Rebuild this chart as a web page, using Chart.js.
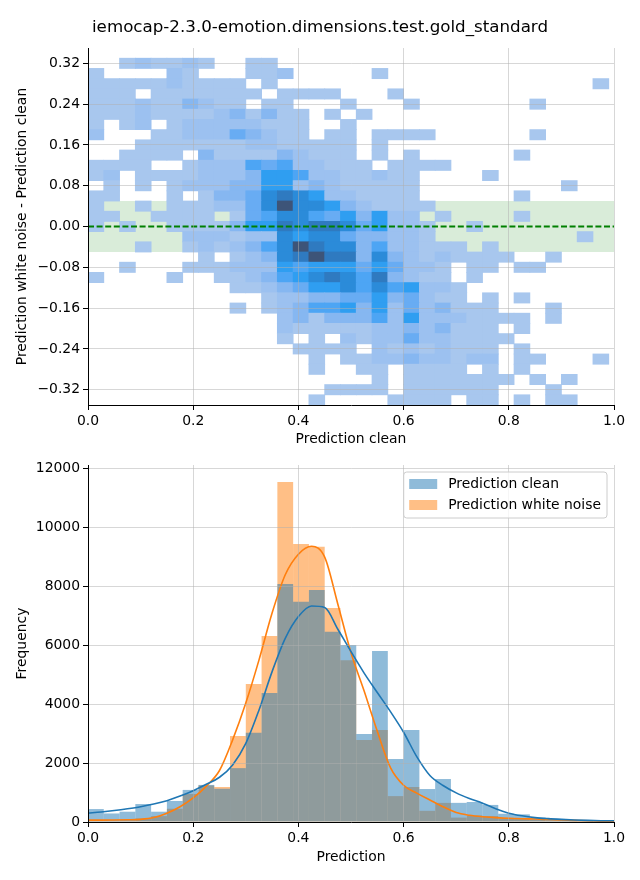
<!DOCTYPE html>
<html>
<head>
<meta charset="utf-8">
<script src="https://cdn.jsdelivr.net/npm/chart.js"></script>
<style>
  body { margin: 0; background: #fff; }
  canvas { display: block; }
</style>
</head>
<body>
<canvas id="heat" width="640" height="450"></canvas>
<canvas id="hist" width="640" height="430"></canvas>
<script>
const chartTitle = 'iemocap-2.3.0-emotion.dimensions.test.gold_standard';

// shared bins on "Prediction clean" / "Prediction" (width 0.03)
const binCenters = [0.015, 0.045, 0.075, 0.105, 0.135, 0.165, 0.195, 0.225, 0.255, 0.285, 0.315,
  0.345, 0.375, 0.405, 0.435, 0.465, 0.495, 0.525, 0.555, 0.585, 0.615, 0.645, 0.675, 0.705,
  0.735, 0.765, 0.795, 0.825, 0.855, 0.885, 0.915, 0.945, 0.975];

// rows of the 2d histogram (difference), top to bottom, height 0.02
const rowCenters = [0.32, 0.30, 0.28, 0.26, 0.24, 0.22, 0.20, 0.18, 0.16, 0.14, 0.12, 0.10, 0.08,
  0.06, 0.04, 0.02, 0.00, -0.02, -0.04, -0.06, -0.08, -0.10, -0.12, -0.14, -0.16, -0.18, -0.20,
  -0.22, -0.24, -0.26, -0.28, -0.30, -0.32, -0.34];
const rowHalf = 0.01;

// density level per cell (0 = empty, 9 = densest), one string per row
const heatRows = [
  '001211210011000000000000000000000',
  '100002100011200000100000000000000',
  '111112111101000000000000000000001',
  '111011111110111100010000000000000',
  '111211321101100010001000000010000',
  '111211112313110101000000000000000',
  '101201222221110010000000000000000',
  '200011222432110110111100000010000',
  '000111111122111110100000000000000',
  '001111031111321110101000000100000',
  '111100122254522111011110000000000',
  '120111122236652211211000010000000',
  '010101222336623211111000000000100',
  '110001013347876221111000000100000',
  '100101112247977632111100000000000',
  '110011110145775463622010000100000',
  '101001111366878874622100100000000',
  '000000222122767743322100000000010',
  '000100121235798773522111010000000',
  '000000010123789883732121111001000',
  '001000111222656664642210110110000',
  '100001001123567875832110100000000',
  '000000000112346675756221000000000',
  '000000000001223344634211010100000',
  '000000000101235563624231110001000',
  '000000000000231333526222111101000',
  '000000000000211111223231110100000',
  '000000000000101021224221111000000',
  '000000000000011110212121110100000',
  '000000000000001011223221220110001',
  '000000000000001001101111010100000',
  '000000000000000000101111111010100',
  '000000000000000111101111110001000',
  '000000000000001000011110110101100'
];
const heatPalette = [null, '#a8c7ee', '#9cc1f0', '#86b7f1', '#68acf3', '#4da5f4',
  '#2f9ef1', '#2b8bd9', '#2f7ac0', '#3d5478'];

const bandHalf = 0.05;
const heatXTicks = [0, 0.2, 0.4, 0.6, 0.8, 1.0];
const heatYTicks = [-0.32, -0.24, -0.16, -0.08, 0, 0.08, 0.16, 0.24, 0.32];

// histogram counts per bin
const cleanCounts = [440, 290, 350, 610, 350, 715, 1090, 1260, 1130, 1830, 3030, 4380, 8090, 7480,
  7880, 6460, 6015, 2990, 5810, 2140, 3130, 1120, 1460, 650, 680, 580, 280, 260, 150, 100, 70, 40, 20];
const noiseCounts = [60, 50, 60, 120, 200, 450, 950, 1240, 1190, 2920, 4690, 6320, 11550, 9450,
  9350, 7270, 5500, 2790, 3130, 880, 1190, 380, 650, 150, 220, 200, 120, 100, 80, 60, 40, 30, 20];

// kde curves (in counts)
const kdeX = [0, 0.025, 0.05, 0.075, 0.1, 0.125, 0.15, 0.175, 0.2, 0.225, 0.25, 0.275, 0.3, 0.325,
  0.35, 0.375, 0.4, 0.425, 0.45, 0.475, 0.5, 0.525, 0.55, 0.575, 0.6, 0.625, 0.65, 0.675, 0.7,
  0.725, 0.75, 0.775, 0.8, 0.825, 0.85, 0.875, 0.9, 0.925, 0.95, 0.975, 1.0];
const kdeClean = [300, 340, 390, 450, 520, 610, 725, 880, 1065, 1280, 1520, 1940, 2670, 3800, 5110,
  6240, 6980, 7340, 7290, 6550, 5790, 5060, 4400, 3750, 3050, 2220, 1580, 1240, 990, 800, 640, 450,
  300, 210, 150, 115, 90, 70, 55, 45, 40];
const kdeNoise = [65, 65, 68, 75, 90, 150, 300, 520, 820, 1220, 1750, 2790, 4040, 5500, 7100, 8400,
  9100, 9370, 9000, 7400, 5750, 4450, 3080, 1850, 1250, 980, 750, 520, 320, 230, 180, 150, 125, 110,
  100, 85, 70, 55, 40, 30, 25];
const histXTicks = [0, 0.2, 0.4, 0.6, 0.8, 1.0];
const histYTicks = [0, 2000, 4000, 6000, 8000, 10000, 12000];
const histYMax = 12130;

Chart.defaults.font.family = '"DejaVu Sans", sans-serif';
Chart.defaults.color = '#000';

const font = { size: 13.9 };
const gridColor = 'rgba(176,176,176,0.5)';
const fmt = (v, d) => (Math.abs(v) < 1e-9 ? 0 : v).toFixed(d).replace('-', '\u2212');
const grid = { color: gridColor, z: 1, tickColor: '#000', tickLength: 5, tickWidth: 1, offset: false };
const border = { color: '#000', width: 1, z: 2 };
const setTicks = arr => s => { s.ticks = arr.map(v => ({ value: v })); };

// heat cells as floating bars
const heatData = [];
heatRows.forEach((row, r) => {
  [...row].forEach((ch, c) => {
    const v = +ch;
    if (v) heatData.push({ x: binCenters[c], y: [rowCenters[r] - rowHalf, rowCenters[r] + rowHalf], v });
  });
});

new Chart(document.getElementById('heat'), {
  type: 'bar',
  data: {
    datasets: [
      { type: 'line', data: [{ x: 0, y: 0 }, { x: 1, y: 0 }], borderColor: '#008000', borderWidth: 2,
        borderDash: [6, 2.6], pointRadius: 0, order: 0 },
      { data: heatData, backgroundColor: ctx => ctx.raw ? heatPalette[ctx.raw.v] : heatPalette[1],
        borderWidth: 0, barPercentage: 1, categoryPercentage: 1, inflateAmount: 0.4, order: 1 },
      { type: 'line', data: [{ x: 0, y: bandHalf }, { x: 1, y: bandHalf }], fill: '+1',
        backgroundColor: 'rgba(0,128,0,0.15)', borderColor: 'rgba(0,0,0,0)', pointRadius: 0, order: 2 },
      { type: 'line', data: [{ x: 0, y: -bandHalf }, { x: 1, y: -bandHalf }],
        borderColor: 'rgba(0,0,0,0)', pointRadius: 0, order: 2 }
    ]
  },
  options: {
    responsive: false, animation: false, events: [],
    layout: { padding: 0 },
    plugins: {
      legend: { display: false }, tooltip: { enabled: false },
      title: { display: true, text: chartTitle, font: { size: 16.7, weight: 'normal' },
        padding: { top: 18, bottom: 10 }, color: '#000' }
    },
    scales: {
      x: {
        type: 'linear', min: 0, max: 1, offset: false, grid, border,
        afterBuildTicks: setTicks(heatXTicks), afterFit: s => { s.height = 45; },
        ticks: { font, padding: 3, maxRotation: 0, callback: v => fmt(v, 1) },
        title: { display: true, text: 'Prediction clean', font, padding: { top: 0, bottom: 2 } }
      },
      y: {
        type: 'linear', min: -0.35, max: 0.35, border,
        grid: { ...grid, color: ctx => ctx.tick && Math.abs(ctx.tick.value) < 1e-9 ? 'rgba(0,0,0,0)' : gridColor },
        afterBuildTicks: setTicks(heatYTicks), afterFit: s => { s.width = 88; },
        ticks: { font, padding: 3, callback: v => fmt(v, 2) },
        title: { display: true, text: 'Prediction white noise - Prediction clean', font, padding: { top: 14, bottom: 0 } }
      },
      // empty right margin so the title centres on the whole figure
      pad: {
        type: 'linear', position: 'right', grid: { display: false }, border: { display: false },
        ticks: { display: false }, afterFit: s => { s.width = 26; }
      }
    }
  }
});

// legend with a frame, drawn inside the plot area
const boxLegend = {
  id: 'boxLegend',
  afterDraw(chart) {
    const { ctx, chartArea } = chart;
    const items = chart.data.datasets.filter(d => d.type !== 'line');
    ctx.save();
    ctx.font = '13.9px "DejaVu Sans"';
    const textW = Math.max(...items.map(d => ctx.measureText(d.label).width));
    const w = 5.5 + 28 + 11 + textW + 6, h = 25 + 21 * (items.length - 1);
    const x = chartArea.right - 7 - w, y = chartArea.top + 7, r = 3;
    ctx.beginPath();
    ctx.moveTo(x + r, y);
    ctx.arcTo(x + w, y, x + w, y + h, r);
    ctx.arcTo(x + w, y + h, x, y + h, r);
    ctx.arcTo(x, y + h, x, y, r);
    ctx.arcTo(x, y, x + w, y, r);
    ctx.closePath();
    ctx.fillStyle = 'rgba(255,255,255,0.8)';
    ctx.fill();
    ctx.strokeStyle = '#cccccc';
    ctx.lineWidth = 1;
    ctx.stroke();
    ctx.textBaseline = 'middle';
    items.forEach((d, i) => {
      ctx.fillStyle = d.backgroundColor;
      ctx.fillRect(x + 5.5, y + 7 + 21 * i, 28, 10);
      ctx.fillStyle = '#000';
      ctx.fillText(d.label, x + 44.5, y + 12.5 + 21 * i);
    });
    ctx.restore();
  }
};

const barStyle = { borderWidth: 0, barPercentage: 1, categoryPercentage: 1, grouped: false, inflateAmount: 0 };

new Chart(document.getElementById('hist'), {
  type: 'bar',
  data: {
    datasets: [
      { type: 'line', data: kdeX.map((x, i) => ({ x, y: kdeClean[i] })), borderColor: '#1f77b4',
        borderWidth: 1.6, pointRadius: 0, cubicInterpolationMode: 'monotone', order: 0 },
      { type: 'line', data: kdeX.map((x, i) => ({ x, y: kdeNoise[i] })), borderColor: '#ff7f0e',
        borderWidth: 1.6, pointRadius: 0, cubicInterpolationMode: 'monotone', order: 0 },
      { label: 'Prediction clean', data: binCenters.map((x, i) => ({ x, y: cleanCounts[i] })),
        backgroundColor: 'rgba(31,119,180,0.5)', ...barStyle, order: 1 },
      { label: 'Prediction white noise', data: binCenters.map((x, i) => ({ x, y: noiseCounts[i] })),
        backgroundColor: 'rgba(255,127,14,0.5)', ...barStyle, order: 2 }
    ]
  },
  plugins: [boxLegend],
  options: {
    responsive: false, animation: false, events: [],
    layout: { padding: { left: 0, right: 26, top: 15, bottom: 0 } },
    plugins: { legend: { display: false }, tooltip: { enabled: false } },
    scales: {
      x: {
        type: 'linear', min: 0, max: 1, offset: false, grid, border,
        afterBuildTicks: setTicks(histXTicks), afterFit: s => { s.height = 58; },
        ticks: { font, padding: 3, maxRotation: 0, callback: v => fmt(v, 1) },
        title: { display: true, text: 'Prediction', font, padding: { top: 0, bottom: 14.5 } }
      },
      y: {
        type: 'linear', min: 0, max: histYMax, grid, border,
        afterBuildTicks: setTicks(histYTicks), afterFit: s => { s.width = 88; },
        ticks: { font, padding: 3, callback: v => String(v) },
        title: { display: true, text: 'Frequency', font, padding: { top: 14, bottom: 0 } }
      }
    }
  }
});
</script>
</body>
</html>
